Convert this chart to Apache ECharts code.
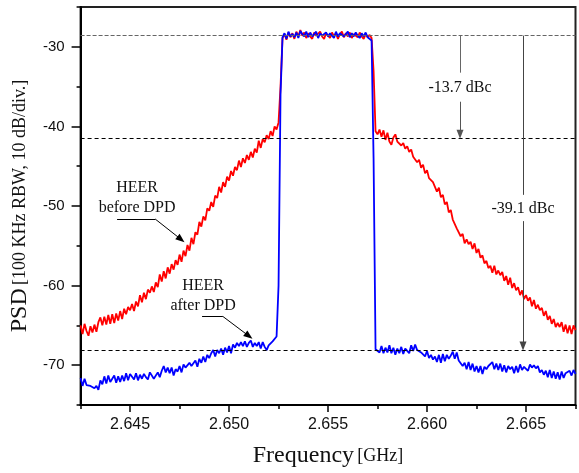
<!DOCTYPE html>
<html>
<head>
<meta charset="utf-8">
<script src="https://cdn.jsdelivr.net/npm/echarts@6/dist/echarts.min.js"></script>
<style>html,body{margin:0;padding:0;background:#fff}#c{width:579px;height:473px}</style>
</head>
<body>
<div id="c"></div>
<script>
// Sampling grid of the spectrum trace (GHz)
const freqStartGHz = 2.6425;
const freqStepGHz = 0.0001;

// HEER before DPD (red), dB
const redLeft = [
 -65.0,-66.1,-64.8,-65.7,-66.3,-65.1,-65.9,-64.9,-65.8,-64.6,
 -64.0,-65.0,-63.9,-64.9,-63.7,-64.8,-63.6,-64.7,-63.5,-64.4,
 -63.2,-64.2,-62.9,-63.6,-62.7,-63.1,-62.3,-63.2,-62.0,-62.6,
 -61.2,-62.1,-60.9,-61.7,-60.5,-60.9,-60.1,-60.8,-59.6,-60.2,
 -58.6,-59.5,-58.2,-59.1,-57.7,-58.5,-57.3,-58.0,-56.8,-57.4,
 -56.1,-57.0,-55.6,-56.3,-54.9,-55.6,-54.0,-54.8,-53.3,-53.6,
 -52.0,-52.6,-51.3,-51.8,-50.3,-50.6,-49.5,-50.1,-48.7,-49.0,
 -47.6,-48.3,-47.0,-47.6,-46.3,-46.8,-45.6,-46.2,-45.1,-45.5,
 -44.3,-45.1,-44.0,-44.6,-43.6,-44.2,-43.2,-43.9,-42.8,-43.3,
 -41.8,-42.7,-41.6,-42.0,-41.1,-41.6,-40.6,-41.2,-40.0,-40.4,
 -39.5,-35.0
];
const redBand = [
 -28.9,-28.4,-29.1,-28.2,-28.8,-28.3,-29.0,-28.1,-28.7,-27.9,
 -28.6,-28.2,-28.9,-28.3,-28.7,-29.0,-28.2,-28.6,-28.8,-28.1,
 -28.7,-29.0,-28.3,-28.6,-28.9,-28.2,-28.7,-28.3,-29.0,-28.4,
 -28.1,-28.8,-28.3,-28.7,-28.2,-28.9,-28.4,-28.3,-28.8,-28.2,
 -28.7,-29.0,-28.4,-28.8,-28.5,-28.9
];
const redRight = [
 -33.0,-40.6,-41.0,
 -40.4,-41.3,-40.5,-41.7,-40.8,-41.9,-42.3,-41.4,-41.0,-41.9,
 -41.7,-42.4,-42.1,-42.8,-42.5,-43.2,-42.9,-43.8,-43.6,-44.5,
 -44.2,-45.2,-44.8,-45.9,-45.5,-46.5,-46.3,-47.0,-47.0,-48.2,
 -47.7,-48.9,-48.6,-49.8,-49.5,-50.8,-50.5,-51.7,-51.5,-52.8,
 -52.6,-53.8,-53.5,-54.7,-54.2,-54.8,-54.5,-55.4,-54.7,-55.9,
 -55.4,-56.5,-56.2,-57.2,-56.9,-57.8,-57.5,-58.4,-57.5,-58.6,
 -58.1,-58.7,-58.3,-59.4,-58.8,-59.9,-59.0,-60.3,-59.7,-60.6,
 -60.2,-61.2,-60.6,-61.7,-61.2,-61.9,-61.5,-62.6,-61.8,-62.9,
 -62.4,-63.1,-62.8,-63.8,-63.2,-64.3,-63.8,-64.8,-64.2,-65.2,
 -64.7,-65.2,-64.6,-65.8,-64.9,-66.0,-65.0,-66.1,-65.0,-65.6
];

// HEER after DPD (blue), dB
const blueLeft = [
 -71.6,-72.6,-71.7,-72.5,-72.3,-72.6,-72.4,-72.9,-72.6,-73.1,
 -71.9,-72.4,-71.4,-72.3,-71.3,-72.1,-71.7,-71.3,-72.2,-71.4,
 -72.1,-71.3,-72.0,-71.0,-71.9,-71.1,-71.0,-71.8,-71.0,-71.9,
 -71.2,-71.7,-71.1,-71.5,-71.8,-70.9,-71.1,-71.7,-71.6,-70.9,
 -71.5,-70.7,-70.1,-70.9,-70.3,-71.0,-70.3,-71.3,-70.5,-70.8,
 -70.1,-70.9,-69.9,-70.3,-70.5,-69.7,-70.1,-70.3,-69.4,-70.2,
 -69.2,-69.7,-68.9,-69.6,-68.7,-69.1,-68.5,-68.1,-68.9,-68.1,
 -68.5,-67.9,-68.7,-67.8,-68.4,-67.6,-68.5,-67.4,-67.8,-67.2,
 -67.6,-67.1,-67.6,-67.0,-67.7,-67.2,-66.9,-67.7,-67.2,-67.6,
 -67.1,-67.9,-67.1,-67.7,-68.1,-67.5,-67.6,-67.0,-67.2,-66.4,
 -60.0,-36.0
];
const blueBand = [
 -28.8,-28.3,-29.0,-28.1,-28.7,-28.4,-28.8,-28.2,-28.9,-28.0,
 -28.4,-28.7,-28.1,-28.8,-28.2,-28.7,-28.4,-28.1,-28.9,-28.3,
 -28.6,-28.8,-28.2,-28.7,-28.3,-28.6,-28.9,-28.1,-28.7,-28.3,
 -28.2,-28.7,-28.4,-28.1,-28.8,-28.3,-28.7,-28.2,-28.6,-28.9,
 -28.3,-28.7,-28.2,-28.8,-28.9,-29.2
];
const blueRight = [
 -44.0,-68.0,-67.8,
 -68.4,-67.6,-68.5,-67.8,-68.4,-67.5,-68.5,-67.8,-68.7,-67.9,
 -68.5,-67.7,-68.6,-67.9,-68.2,-68.5,-67.5,-68.2,-67.4,-68.1,
 -67.9,-68.4,-68.3,-68.9,-68.2,-69.1,-68.7,-69.3,-68.9,-69.6,
 -68.7,-69.7,-68.6,-69.5,-68.7,-69.2,-68.8,-68.3,-69.2,-68.4,
 -69.4,-69.2,-70.1,-69.7,-70.5,-69.6,-70.6,-69.8,-70.8,-70.1,
 -70.9,-70.1,-71.1,-70.2,-70.5,-70.1,-70.3,-69.6,-70.5,-69.8,
 -70.6,-69.8,-70.8,-70.0,-70.9,-70.1,-70.5,-70.2,-71.0,-70.1,
 -70.9,-69.9,-70.6,-70.2,-70.4,-70.7,-69.9,-70.3,-70.0,-70.4,
 -70.1,-70.9,-70.6,-71.2,-70.7,-71.5,-70.6,-71.6,-70.8,-71.7,
 -70.9,-71.8,-70.8,-71.6,-71.0,-71.2,-70.7,-71.3,-70.6,-71.1
];

// Axis ticks
const xMajorTicks = [2.645, 2.650, 2.655, 2.660, 2.665];
const xMinorTicks = [2.6425, 2.6475, 2.6525, 2.6575, 2.6625, 2.6675];
const yMajorTicks = [-70, -60, -50, -40, -30];
const yMinorTicks = [-75, -65, -55, -45, -35, -25];

// Reference levels (dB)
const inBandLevel = -28.6;
const adjLevelBefore = -41.5;
const adjLevelAfter = -68.1;
const dbcBefore = '-13.7 dBc';
const dbcAfter = '-39.1 dBc';

const redValues = redLeft.concat(redBand, redRight);
const blueValues = blueLeft.concat(blueBand, blueRight);
const toPairs = vals => vals.map((v, i) => [+(freqStartGHz + i * freqStepGHz).toFixed(4), v]);

const serif = 'Liberation Serif';
const sans = 'Liberation Sans';

const seg = (a, b, arrow, color) => [
  { coord: a, symbol: 'none', lineStyle: { color: color, width: 1, type: 'solid' } },
  { coord: b, symbol: arrow ? 'triangle' : 'none', itemStyle: { color: '#000' } }
];
const txt = (coord, text) => ({
  coord: coord, symbol: 'rect', symbolSize: 1,
  itemStyle: { color: 'rgba(0,0,0,0)' },
  label: { show: true, position: 'inside', formatter: text, color: '#111',
           fontFamily: serif, fontSize: 16, lineHeight: 20, align: 'center', verticalAlign: 'middle' }
});

const chart = echarts.init(document.getElementById('c'), null, { renderer: 'canvas' });
chart.setOption({
  animation: false,
  backgroundColor: '#fff',
  grid: { left: 80.5, right: 3.5, top: 7, bottom: 66, show: true, borderColor: '#222', borderWidth: 2 },
  xAxis: [{
    type: 'value', min: 2.6425, max: 2.6675, position: 'bottom', offset: 0,
    axisLine: { show: true, lineStyle: { color: '#000', width: 2 } },
    axisTick: { show: true, customValues: xMajorTicks, length: 7, lineStyle: { color: '#000', width: 1.5 } },
    axisLabel: { customValues: xMajorTicks, formatter: v => v.toFixed(3), fontFamily: sans, fontSize: 16, color: '#111', margin: 12 },
    splitLine: { show: false },
    name: '{a|Frequency} {b|[GHz]}', nameLocation: 'middle', nameGap: 39,
    nameTextStyle: { rich: { a: { fontFamily: serif, fontSize: 24, color: '#111' }, b: { fontFamily: serif, fontSize: 18, color: '#111' } } }
  }, {
    type: 'value', min: 2.6425, max: 2.6675, position: 'bottom', offset: 0,
    axisLine: { show: false },
    axisTick: { show: true, customValues: xMinorTicks, length: 4, lineStyle: { color: '#000', width: 1.5 } },
    axisLabel: { show: false }, splitLine: { show: false }
  }],
  yAxis: [{
    type: 'value', min: -75, max: -25, position: 'left', offset: 0,
    axisLine: { show: true, lineStyle: { color: '#000', width: 2 } },
    axisTick: { show: true, customValues: yMajorTicks, length: 9, lineStyle: { color: '#000', width: 1.5 } },
    axisLabel: { customValues: yMajorTicks, formatter: v => String(v), fontFamily: sans, fontSize: 15, color: '#111', margin: 16 },
    splitLine: { show: false },
    name: '{a|PSD} {b|[100 KHz RBW, 10 dB/div.]}', nameLocation: 'middle', nameGap: 41, nameRotate: 90,
    nameTextStyle: { rich: { a: { fontFamily: serif, fontSize: 24, color: '#111' }, b: { fontFamily: serif, fontSize: 18, color: '#111' } } }
  }, {
    type: 'value', min: -75, max: -25, position: 'left', offset: 0,
    axisLine: { show: false },
    axisTick: { show: true, customValues: yMinorTicks, length: 4, lineStyle: { color: '#000', width: 1.5 } },
    axisLabel: { show: false }, splitLine: { show: false }
  }],
  series: [{
    name: 'HEER before DPD', type: 'line', xAxisIndex: 0, yAxisIndex: 0,
    data: toPairs(redValues), showSymbol: false, symbol: 'none', sampling: 'none',
    lineStyle: { color: '#ff0000', width: 1.8 }, z: 2,
    markLine: {
      silent: true, symbol: 'none', animation: false, label: { show: false },
      data: [
        [{ coord: [2.6425, inBandLevel], lineStyle: { color: '#666', width: 1.2, type: [4, 2] } }, { coord: [2.6675, inBandLevel] }],
        [{ coord: [2.6425, adjLevelBefore], lineStyle: { color: '#000', width: 1, type: [4, 3] } }, { coord: [2.6675, adjLevelBefore] }],
        [{ coord: [2.6425, adjLevelAfter], lineStyle: { color: '#000', width: 1, type: [4, 3] } }, { coord: [2.6675, adjLevelAfter] }]
      ]
    }
  }, {
    name: 'HEER after DPD', type: 'line', xAxisIndex: 0, yAxisIndex: 0,
    data: toPairs(blueValues), showSymbol: false, symbol: 'none', sampling: 'none',
    lineStyle: { color: '#0000ff', width: 1.8 }, z: 3,
    markLine: {
      silent: true, animation: false, symbolSize: [7, 9], label: { show: false },
      data: [
        seg([2.661667, inBandLevel], [2.661667, -33.25], false, '#666'),
        seg([2.661667, -36.9], [2.661667, -41.0], true, '#555'),
        seg([2.664849, inBandLevel], [2.664849, -48.6], false, '#444'),
        seg([2.664849, -51.9], [2.664849, -67.6], true, '#444'),
        seg([2.644343, -51.625], [2.646263, -51.625], false, '#000'),
        seg([2.646263, -51.625], [2.647571, -54.19], true, '#000'),
        seg([2.648636, -63.875], [2.649687, -63.875], false, '#000'),
        seg([2.649687, -63.875], [2.651000, -66.33], true, '#000')
      ]
    },
    markPoint: {
      silent: true, animation: false,
      data: [
        txt([2.645353, -49.0], 'HEER\nbefore DPD'),
        txt([2.648687, -61.25], 'HEER\nafter DPD'),
        txt([2.661667, -35.15], dbcBefore),
        txt([2.664849, -50.3], dbcAfter)
      ]
    }
  }]
});
</script>
</body>
</html>
